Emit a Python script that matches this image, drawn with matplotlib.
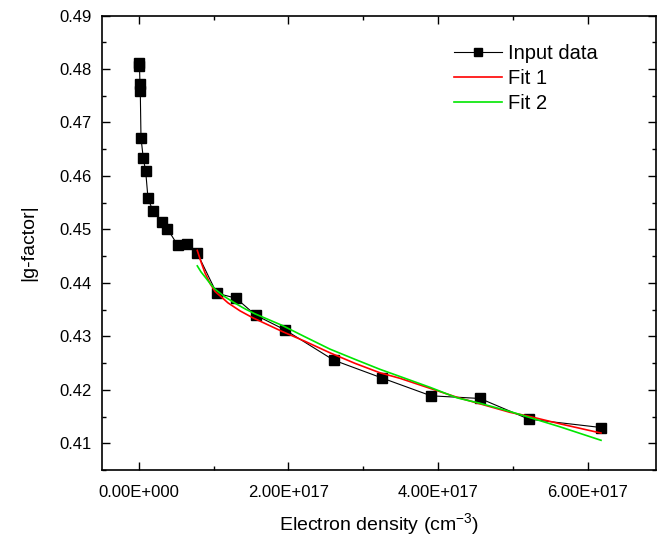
import matplotlib
matplotlib.use('Agg')
import matplotlib.pyplot as plt
from matplotlib.ticker import FuncFormatter, MultipleLocator

plt.rcParams['font.family'] = ['Liberation Sans', 'DejaVu Sans']
plt.rcParams['mathtext.default'] = 'regular'

# measured data (electron density in cm^-3, |g|)
density = [0.004e17, 0.008e17, 0.0147e17, 0.0187e17, 0.0281e17, 0.0588e17,
           0.0909e17, 0.1217e17, 0.1885e17, 0.3128e17, 0.3797e17, 0.5187e17,
           0.6471e17, 0.7767e17, 1.0401e17, 1.2981e17, 1.5615e17, 1.9532e17,
           2.6043e17, 3.2540e17, 3.9051e17, 4.5602e17, 5.2112e17, 6.1778e17]
gfactor = [0.48107, 0.48062, 0.47714, 0.47594, 0.46716, 0.46331,
           0.46088, 0.45583, 0.45340, 0.45146, 0.45015, 0.44705,
           0.44735, 0.44566, 0.43807, 0.43714, 0.43396, 0.43121,
           0.42555, 0.42219, 0.41888, 0.41838, 0.41452, 0.41295]

# fitted curves
fit_x = [0.7807e17, 0.8302e17, 0.8837e17, 0.9505e17, 1.0174e17, 1.1912e17,
         1.3516e17, 1.5120e17, 1.7259e17, 1.9131e17, 2.2206e17, 2.5548e17,
         2.8890e17, 3.2233e17, 3.4906e17, 3.8917e17, 4.2527e17, 4.5602e17,
         4.9612e17, 5.2152e17, 5.6297e17, 6.1778e17]
fit1_y = [0.44607, 0.44393, 0.44187, 0.43991, 0.43841, 0.43626,
          0.43477, 0.43355, 0.43215, 0.43093, 0.42907, 0.42692,
          0.42495, 0.42318, 0.42215, 0.42028, 0.41860, 0.41738,
          0.41579, 0.41505, 0.41364, 0.41191]

fit2_x = [0.7807e17, 0.8302e17, 0.8837e17, 0.9505e17, 1.0174e17, 1.1511e17,
          1.2848e17, 1.4185e17, 1.5521e17, 1.7259e17, 1.9131e17, 2.2206e17,
          2.5548e17, 2.8890e17, 3.2233e17, 3.4906e17, 3.8917e17, 4.2527e17,
          4.5602e17, 4.9612e17, 5.2152e17, 5.6297e17, 6.1778e17]
fit2_y = [0.44318, 0.44206, 0.44112, 0.43991, 0.43882, 0.43738,
          0.43621, 0.43514, 0.43421, 0.43318, 0.43206, 0.42991,
          0.42761, 0.42570, 0.42383, 0.42249, 0.42047, 0.41850,
          0.41748, 0.41594, 0.41486, 0.41308, 0.41056]


def sci_fmt(v, pos):
    if v == 0:
        return '0.00E+000'
    s = '%.2E' % v
    mant, exp = s.split('E')
    return '%sE%s%03d' % (mant, exp[0], abs(int(exp)))


fig = plt.figure(figsize=(6.57, 5.41), dpi=100)
ax = fig.add_axes([0.1548, 0.1312, 0.8437, 0.8401])

ax.plot(density, gfactor, color='black', lw=0.8, marker='s', ms=6.8,
        mfc='black', mec='black', label='Input data', zorder=2)
ax.plot(fit_x, fit1_y, color='#ff0000', lw=1.2, label='Fit 1', zorder=3)
ax.plot(fit2_x, fit2_y, color='#00e600', lw=1.2, label='Fit 2', zorder=3)

ax.set_xlim(-4.97e16, 6.913e17)
ax.set_ylim(0.405, 0.49)
ax.xaxis.set_major_locator(MultipleLocator(2e17))
ax.xaxis.set_minor_locator(MultipleLocator(1e17))
ax.yaxis.set_major_locator(MultipleLocator(0.01))
ax.yaxis.set_minor_locator(MultipleLocator(0.005))
ax.xaxis.set_major_formatter(FuncFormatter(sci_fmt))
ax.yaxis.set_major_formatter(FuncFormatter(lambda v, p: '%.2f' % v))

ax.tick_params(which='both', direction='in', top=True, right=True,
               labelsize=12, width=1.0)
ax.tick_params(which='major', length=6)
ax.tick_params(which='minor', length=3)
ax.tick_params(axis='x', which='major', pad=11)
ax.tick_params(axis='y', which='major', pad=7)
for sp in ax.spines.values():
    sp.set_linewidth(1.2)

ax.set_xlabel('Electron density (cm$^{-3}$)', fontsize=14, labelpad=8)
ax.set_ylabel('|g-factor|', fontsize=14, labelpad=16)

ax.legend(loc='upper left', bbox_to_anchor=(0.691, 0.918),
          bbox_transform=fig.transFigure, frameon=False, fontsize=14.5,
          borderpad=0, borderaxespad=0, handlelength=2.4, handletextpad=0.3,
          labelspacing=0.3, markerscale=0.85)

fig.savefig('out.png', dpi=100)
